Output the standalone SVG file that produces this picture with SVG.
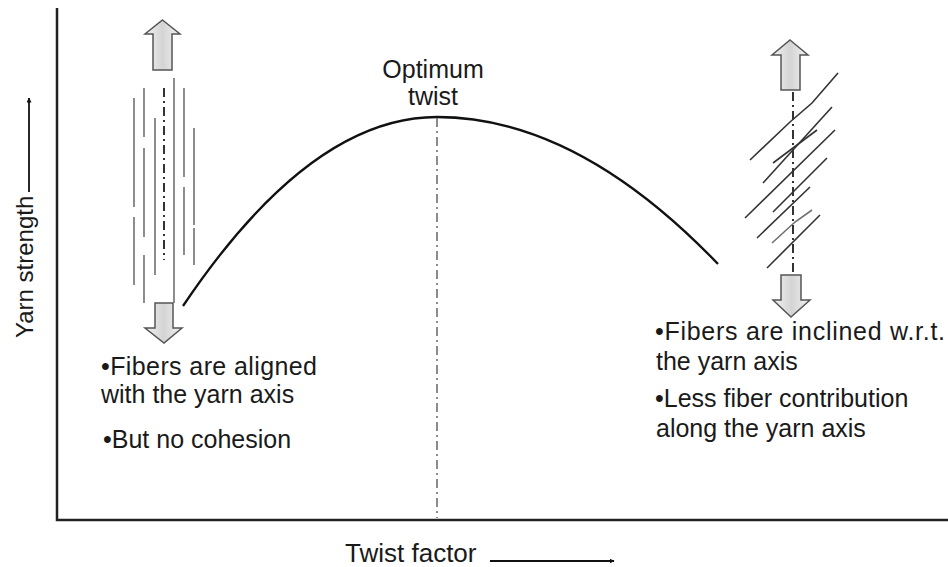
<svg xmlns="http://www.w3.org/2000/svg" width="948" height="567" viewBox="0 0 948 567">
<defs>
<linearGradient id="ag" x1="0" y1="0" x2="1" y2="0">
<stop offset="0" stop-color="#f2f2f2"/><stop offset="0.5" stop-color="#d4d4d4"/><stop offset="1" stop-color="#f2f2f2"/>
</linearGradient>
<marker id="ah" viewBox="0 0 10 10" refX="9" refY="5" markerWidth="5" markerHeight="5" orient="auto" markerUnits="userSpaceOnUse">
<path d="M0,0 L10,5 L0,10 Z" fill="#111"/>
</marker>
</defs>
<style>
text{font-family:"Liberation Sans",Arial,sans-serif;font-size:25px;fill:#1a1a1a}
.axis{stroke:#222;stroke-width:2.5;fill:none}
.fib{stroke:#707070;stroke-width:1.6;fill:none}
.fibd{stroke:#333;stroke-width:1.6;fill:none}
.dd{stroke:#333;stroke-width:2;stroke-dasharray:9 4 2 4;fill:none}
.ddl{stroke:#666;stroke-width:1.5;stroke-dasharray:9 4 2 4;fill:none}
.blk{fill:url(#ag);stroke:#555;stroke-width:1.5}
.lbl{stroke:#111;stroke-width:1.8;fill:none}
</style>
<rect width="948" height="567" fill="#fff"/>

<g id="axes">
<polyline class="axis" points="57,8 57,520 948,520"/>
</g>

<g id="y-label">
<text transform="translate(33,338) rotate(-90)" style="font-size:24px">Yarn strength</text>
<line class="lbl" x1="29" y1="192" x2="29" y2="98" marker-end="url(#ah)"/>
</g>

<g id="x-label">
<text x="345" y="562" style="font-size:26px">Twist factor</text>
<line class="lbl" x1="490" y1="561" x2="614" y2="561" marker-end="url(#ah)"/>
</g>

<g id="curve">
<path d="M183,306 Q310,117 437,117 Q577,117 718,264" fill="none" stroke="#111" stroke-width="2.3"/>
</g>

<g id="optimum">
<line class="ddl" x1="437" y1="118" x2="437" y2="518"/>
<text x="433" y="78" text-anchor="middle">Optimum</text>
<text x="433" y="105" text-anchor="middle">twist</text>
</g>

<g id="left-yarn">
<polygon class="blk" points="162.5,20 180,34 172,34 172,70 153,70 153,34 145,34"/>
<g>
<line class="fib" x1="134" y1="98" x2="134" y2="207"/>
<line class="fib" x1="134" y1="217" x2="134" y2="285"/>
<line class="fib" x1="144" y1="88" x2="144" y2="137"/>
<line class="fib" x1="144" y1="148" x2="144" y2="237"/>
<line class="fib" x1="144" y1="255" x2="144" y2="303"/>
<line class="fib" x1="155" y1="118" x2="155" y2="275"/>
<line class="fib" x1="174" y1="78" x2="174" y2="303"/>
<line class="fib" x1="184" y1="88" x2="184" y2="177"/>
<line class="fib" x1="184" y1="187" x2="184" y2="255"/>
<line class="fib" x1="194" y1="128" x2="194" y2="225"/>
<line class="fib" x1="194" y1="228" x2="194" y2="265"/>
</g>
<line class="dd" x1="164" y1="88" x2="164" y2="260"/>
<polygon class="blk" points="155,303 173,303 173,328 182,328 164,343 145,328 155,328"/>
</g>

<g id="right-yarn">
<polygon class="blk" points="790,40 808,55 800,55 800,90 781,90 781,55 772,55"/>
<g>
<path class="fibd" d="M750,160 L790,122 L812,103 L838,73"/>
<line class="fibd" x1="773" y1="163" x2="817" y2="130"/>
<line class="fibd" x1="763" y1="183" x2="832" y2="107"/>
<line class="fibd" x1="745" y1="218" x2="835" y2="130"/>
<line class="fibd" x1="773" y1="212" x2="827" y2="158"/>
<line class="fibd" x1="757" y1="238" x2="810" y2="187"/>
<path class="fib" d="M772,243 L795,222 L812,210"/>
<line class="fibd" x1="767" y1="268" x2="820" y2="215"/>
</g>
<line class="dd" x1="793" y1="92" x2="793" y2="272"/>
<polygon class="blk" points="781,275 801,275 801,300 810,300 791,317 773,300 781,300"/>
</g>

<g id="left-text">
<text x="101" y="375" textLength="216">•Fibers are aligned</text>
<text x="101" y="403">with the yarn axis</text>
<text x="103" y="448">•But no cohesion</text>
</g>

<g id="right-text">
<text x="655" y="340" textLength="290">•Fibers are inclined w.r.t.</text>
<text x="656" y="370">the yarn axis</text>
<text x="655" y="407">•Less fiber contribution</text>
<text x="656" y="437">along the yarn axis</text>
</g>
</svg>
